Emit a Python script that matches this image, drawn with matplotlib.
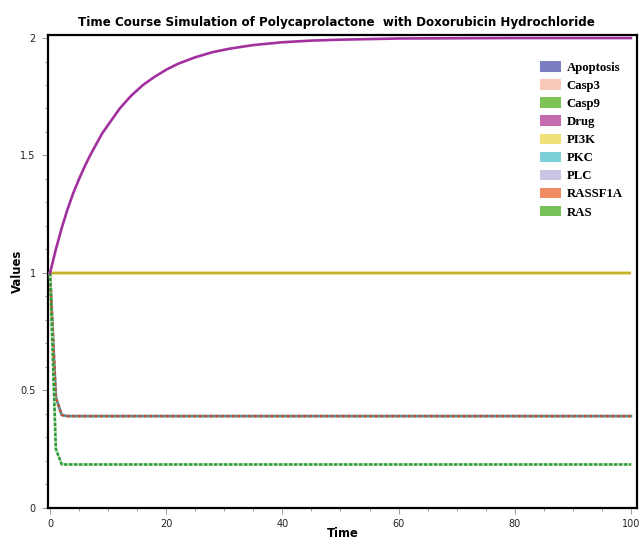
import matplotlib
matplotlib.use("Agg")
import matplotlib.pyplot as plt
from matplotlib.patches import Patch
from matplotlib.ticker import MultipleLocator

# Simulation output
drug_time = [0, 0.5, 1, 1.5, 2, 2.5, 3, 3.5, 4, 5, 6, 7, 8, 9, 10, 11, 12, 13,
             14, 16, 18, 20, 22, 25, 28, 31, 35, 40, 45, 50, 60, 70, 80, 90, 100]
drug_vals = [1.0, 1.05, 1.10, 1.145, 1.19, 1.23, 1.27, 1.305, 1.34, 1.40,
             1.455, 1.505, 1.55, 1.595, 1.63, 1.665, 1.70, 1.728, 1.755,
             1.80, 1.835, 1.865, 1.89, 1.918, 1.94, 1.955, 1.97, 1.982,
             1.989, 1.993, 1.998, 1.999, 2.0, 2.0, 2.0]

step_time = [0, 1, 2, 3, 100]
pi3k_vals = [1.0, 1.0, 1.0, 1.0, 1.0]
pathway_vals = [1.0, 0.47, 0.395, 0.39, 0.39]   # Apoptosis, Casp3, Casp9, PKC, PLC, RASSF1A
ras_vals = [1.0, 0.25, 0.185, 0.184, 0.184]

species = ["Apoptosis", "Casp3", "Casp9", "Drug", "PI3K", "PKC", "PLC", "RASSF1A", "RAS"]
legend_colors = ["#7b7fc2", "#f8c9b8", "#7dc356", "#c46aae", "#f1e179",
                 "#7ccfd8", "#c9c6e4", "#f08c62", "#76c258"]

x_ticks = [0, 20, 40, 60, 80, 100]
y_ticks = [0, 0.5, 1, 1.5, 2]
y_tick_labels = ["0", "0.5", "1", "1.5", "2"]

fig = plt.figure(figsize=(6.39, 5.40), dpi=100)
ax = fig.add_axes([48.3 / 639, (540 - 507.7) / 540, 589 / 639, 473.2 / 540])

# Flat PI3K level
ax.plot(step_time, pi3k_vals, color="#e6da8a", lw=2.6, solid_capstyle="butt", zorder=2)
ax.plot(step_time, pi3k_vals, color="#c2ac22", lw=1.3, solid_capstyle="butt", zorder=3)

# Drug rising towards steady state
ax.plot(drug_time, drug_vals, color="#a2309e", lw=1.9, zorder=4)

# Overlapping pathway species
ax.plot(step_time, pathway_vals, color="#5e8f94", lw=2.0, zorder=3)
ax.plot(step_time, pathway_vals, color="#c9502f", lw=1.8, dashes=(1.1, 1.1), zorder=3.5)

# RAS
ax.plot(step_time, ras_vals, color="#bfe3b8", lw=2.0, zorder=3)
ax.plot(step_time, ras_vals, color="#2f9a3a", lw=1.8, dashes=(1.3, 0.7), zorder=3.5)

ax.set_xlim(-0.3, 101.1)
ax.set_ylim(0, 2.015)
ax.set_xticks(x_ticks)
ax.set_yticks(y_ticks)
ax.set_yticklabels(y_tick_labels)
ax.xaxis.set_minor_locator(MultipleLocator(5))
ax.yaxis.set_minor_locator(MultipleLocator(0.1))
ax.tick_params(which="both", direction="out", colors="#9a9a9a", labelcolor="#222222",
               labelsize=7, width=0.7)
ax.tick_params(which="major", length=4, pad=4)
ax.tick_params(which="minor", length=2.5)
ax.tick_params(axis="y", which="major", pad=5)
ax.tick_params(top=False, right=False)
for s in ax.spines.values():
    s.set_linewidth(1.6)
    s.set_color("black")

ax.set_title("Time Course Simulation of Polycaprolactone  with Doxorubicin Hydrochloride",
             fontsize=8.6, fontweight="bold", pad=6, x=0.49)
ax.set_xlabel("Time", fontsize=8.4, fontweight="bold", labelpad=-1)
ax.set_ylabel("Values", fontsize=8.4, fontweight="bold")
ax.yaxis.set_label_coords(-0.041, 0.5)

handles = [Patch(facecolor=c, edgecolor="none") for c in legend_colors]
ax.legend(handles, species, loc="upper left", bbox_to_anchor=(530 / 639, 1 - 51 / 540),
          bbox_transform=fig.transFigure, frameon=False,
          prop={"family": "Liberation Serif", "weight": "bold", "size": 9.2},
          handlelength=1.6, handleheight=0.9, handletextpad=0.45, labelspacing=0.42,
          borderpad=0.3)

fig.savefig("out.png", dpi=100, facecolor="white")
